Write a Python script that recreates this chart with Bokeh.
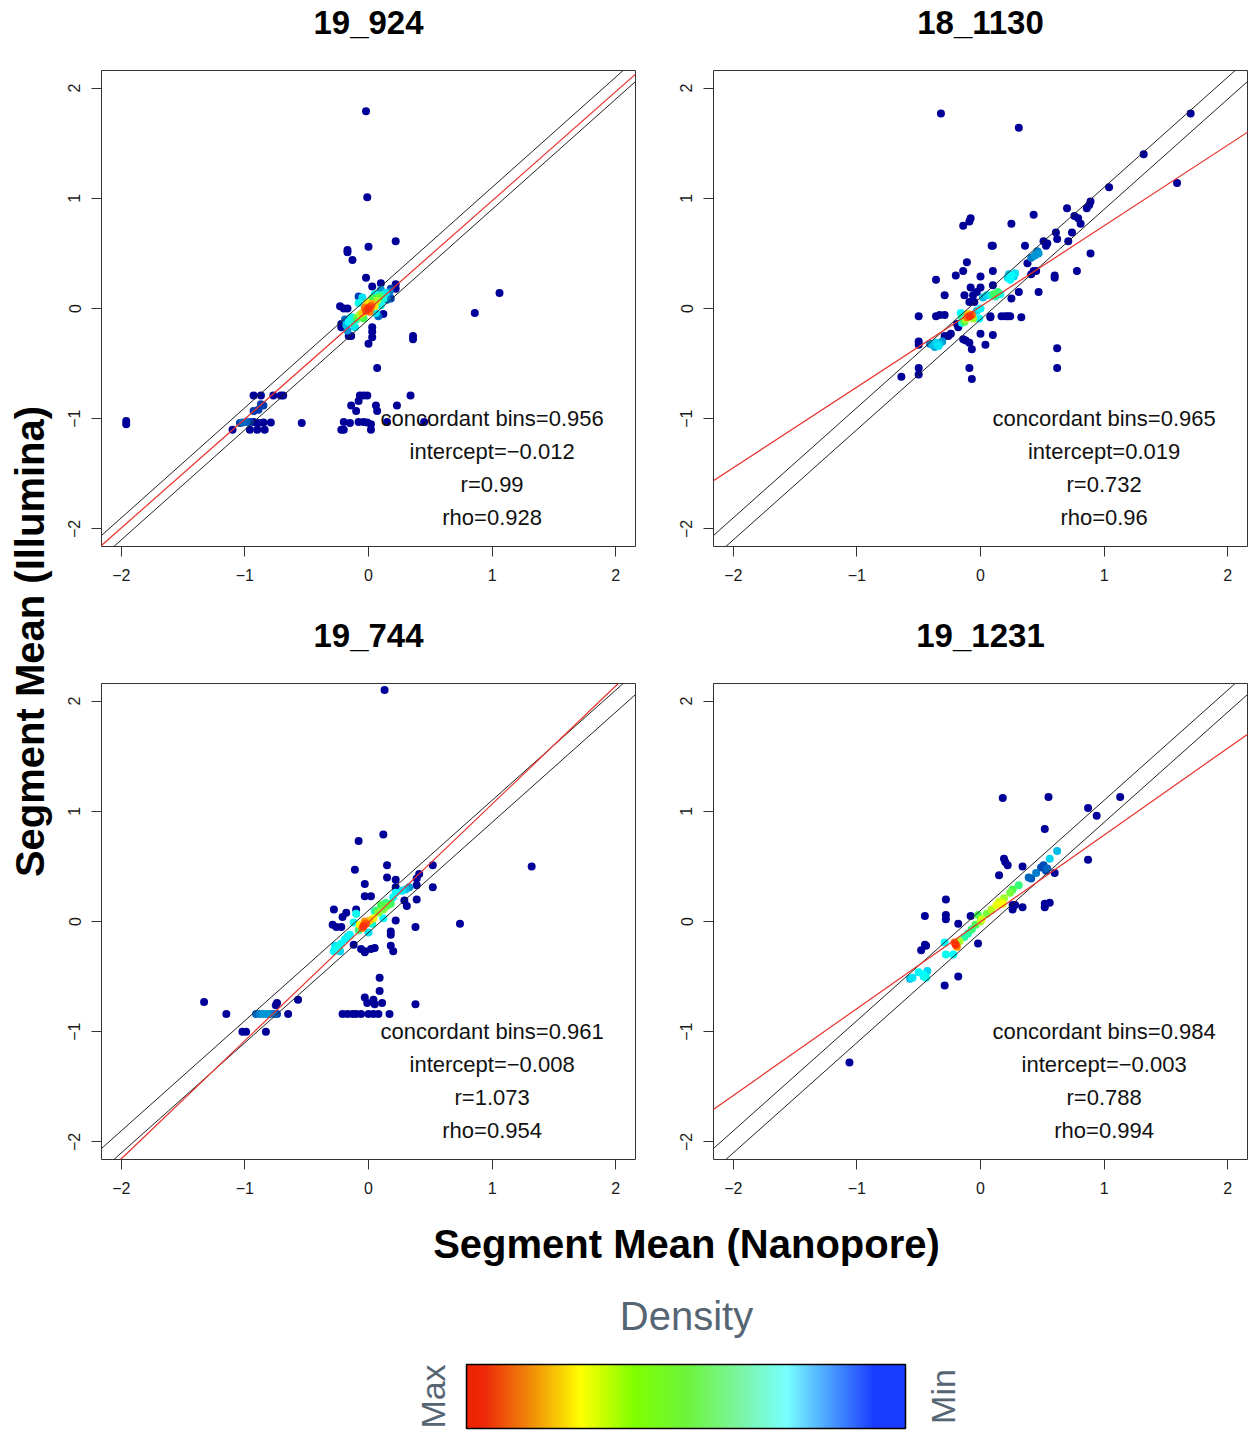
import numpy as np
from bokeh.plotting import figure
from bokeh.layouts import row, column
from bokeh.models import (Range1d, FixedTicker, LinearColorMapper, ColorBar,
                          Label, Slope, ColumnDataSource)
from bokeh.core.properties import value
from bokeh.embed import file_html
from bokeh.resources import INLINE

# ---------------- data ----------------
panel_titles = ["19_924", "18_1130", "19_744", "19_1231"]
concordant = [0.956, 0.965, 0.961, 0.984]
intercepts = [-0.012, 0.019, -0.008, -0.003]
r_values = [0.99, 0.732, 1.073, 0.788]
rho_values = [0.928, 0.96, 0.954, 0.994]
band = 0.1
tick_values = [-2, -1, 0, 1, 2]
tick_labels = ["\u22122", "\u22121", "0", "1", "2"]

# 19_924
x_19_924 = [-0.02, -0.01, 0.22, 0.00, -0.17, -0.17, -0.13, -0.02, 0.10, 0.03, 0.22, 0.22, 0.18, 1.06, 0.86,
            -0.23, -0.20, -0.17, -0.08, 0.18, 0.12, -0.22, -0.22, -0.16, -0.14, 0.03, 0.03, 0.03, 0.36, 0.36,
            0.00, 0.07,
            -0.93, -0.87, -0.77, -0.71, -0.69, -0.07, -0.04, -0.01, 0.34,
            -0.87, -0.85, -0.14, 0.06, 0.23, -0.08,
            -0.93, -0.89, -0.10, 0.07,
            -1.96, -1.96, -1.04, -1.02, -0.99, -0.96, -0.93, -0.89, -0.85, -0.79, -0.54, -0.20, -0.15, -0.08,
            -0.04, -0.01, 0.02, 0.15, 0.45,
            -1.10, -0.96, -0.90, -0.84, -0.22, -0.20, 0.02,
            0.00, -0.02, 0.02, -0.03, 0.01, 0.03, -0.05, 0.05, -0.01, 0.07, -0.07, 0.08, -0.09, 0.03, -0.04,
            0.10, -0.10, 0.12, -0.12, -0.14, 0.05, -0.08, 0.10, -0.16, -0.05, 0.14, -0.11, 0.06, -0.18, 0.10,
            0.15, -0.17, 0.17, -0.19, 0.08]
y_19_924 = [1.79, 1.01, 0.61, 0.56, 0.53, 0.51, 0.44, 0.28, 0.23, 0.20, 0.22, 0.18, 0.18, 0.14, -0.04,
            0.02, 0.00, 0.00, 0.11, 0.09, -0.05, -0.14, -0.17, -0.25, -0.25, -0.17, -0.21, -0.26, -0.25, -0.28,
            -0.32, -0.54,
            -0.79, -0.79, -0.79, -0.79, -0.79, -0.79, -0.79, -0.79, -0.79,
            -0.87, -0.88, -0.88, -0.88, -0.88, -0.84,
            -0.93, -0.92, -0.93, -0.93,
            -1.02, -1.05, -1.04, -1.035, -1.03, -1.03, -1.03, -1.04, -1.035, -1.035, -1.04, -1.03, -1.04, -1.03,
            -1.03, -1.035, -1.05, -1.03, -1.03,
            -1.10, -1.10, -1.10, -1.10, -1.10, -1.10, -1.10,
            0.00, -0.02, 0.02, 0.01, -0.03, 0.04, -0.04, 0.02, 0.05, 0.07, -0.06, 0.10, -0.08, 0.09, -0.09,
            0.12, -0.10, 0.09, -0.13, -0.08, 0.13, 0.05, 0.03, -0.12, 0.10, 0.14, -0.17, -0.04, -0.15, 0.17,
            0.08, -0.20, 0.15, -0.10, -0.07]
d_19_924 = [0, 0, 0, 0, 0, 0, 0, 0, 0, 0, 0, 0, 0.05, 0, 0,
            0, 0, 0, 0.05, 0.05, 0, 0, 0, 0, 0, 0, 0, 0, 0, 0,
            0, 0,
            0, 0, 0, 0, 0, 0, 0, 0, 0,
            0.05, 0.05, 0, 0, 0, 0,
            0.05, 0.05, 0, 0,
            0, 0, 0.05, 0.08, 0.08, 0.05, 0, 0, 0, 0, 0, 0, 0, 0,
            0, 0, 0, 0, 0,
            0, 0, 0, 0, 0, 0, 0,
            1.0, 0.95, 0.92, 0.85, 0.85, 0.75, 0.7, 0.65, 0.65, 0.5, 0.5, 0.42, 0.42, 0.4, 0.4,
            0.3, 0.3, 0.25, 0.25, 0.22, 0.22, 0.22, 0.22, 0.2, 0.18, 0.18, 0.18, 0.18, 0.15, 0.12,
            0.1, 0.12, 0.1, 0.08, 0.08]

# 18_1130
x_18_1130 = [-0.32, 0.31, 1.70, 1.32, 1.59, 1.04, 0.70, 0.86, 0.88, 0.89, 0.43, -0.08, -0.09, -0.14, 0.25,
             0.76, 0.79, 0.81, 0.74, 0.61, 0.62, 0.51, 0.54, 0.53, 0.89, 0.71, 0.09, 0.10, 0.36, -0.11,
             0.10, 0.78, 0.38, 0.43, 0.45, 0.41, 0.60, 0.60, -0.36, -0.20, -0.14, 0.00, 0.47, 0.31, 0.25,
             0.10, -0.08, 0.00, -0.03, -0.29, -0.13, -0.06, -0.09, -0.05, 0.08, 0.08, 0.17, 0.20, 0.22, 0.24,
             0.33, -0.50, -0.36, -0.33, -0.29, -0.19, -0.18, -0.14, -0.12, -0.09, -0.07, 0.00, 0.10, 0.04,
             -0.24, -0.26, -0.50, -0.50, -0.29, 0.62, 0.62, -0.50, -0.50, -0.64, -0.09, -0.07,
             0.44, 0.47, 0.41, 0.46,
             0.22, 0.25, 0.28, 0.24, 0.27, 0.23, 0.02, 0.05,
             0.11, 0.14, 0.12, 0.09, 0.16,
             -0.09, -0.07, -0.11, -0.10, -0.12, -0.13, -0.06, -0.15,
             0.00, -0.01, -0.03, -0.16, -0.15,
             -0.39, -0.36, -0.33, -0.37, -0.34, -0.41, -0.31]
y_18_1130 = [1.77, 1.64, 1.77, 1.40, 1.14, 1.10, 0.91, 0.91, 0.94, 0.97, 0.85, 0.82, 0.79, 0.75, 0.77,
             0.84, 0.82, 0.77, 0.69, 0.69, 0.63, 0.61, 0.59, 0.57, 0.50, 0.61, 0.57, 0.57, 0.57, 0.42,
             0.34, 0.34, 0.41, 0.34, 0.34, 0.31, 0.30, 0.28, 0.26, 0.30, 0.34, 0.29, 0.15, 0.15, 0.09,
             0.21, 0.19, 0.19, 0.15, 0.12, 0.12, 0.12, 0.06, 0.06, -0.07, -0.08, -0.07, -0.07, -0.07, -0.07,
             -0.08, -0.07, -0.07, -0.06, -0.06, -0.14, -0.17, -0.28, -0.29, -0.31, -0.37, -0.23, -0.24, -0.33,
             -0.23, -0.25, -0.30, -0.33, -0.25, -0.36, -0.54, -0.54, -0.60, -0.62, -0.54, -0.64,
             0.48, 0.50, 0.46, 0.52,
             0.28, 0.30, 0.32, 0.26, 0.29, 0.31, 0.10, 0.12,
             0.13, 0.15, 0.11, 0.12, 0.13,
             -0.07, -0.06, -0.08, -0.05, -0.10, -0.12, -0.09, -0.08,
             0.00, -0.09, -0.02, -0.04, -0.13,
             -0.33, -0.31, -0.32, -0.35, -0.34, -0.32, -0.30]
d_18_1130 = [0] * 86 + [0.12, 0.12, 0.1, 0.1,
                       0.18, 0.2, 0.18, 0.2, 0.17, 0.15, 0.15, 0.17,
                       0.38, 0.35, 0.3, 0.25, 0.22,
                       1.0, 0.9, 0.85, 0.7, 0.5, 0.4, 0.5, 0.3,
                       0.2, 0.2, 0.17, 0.2, 0.22,
                       0.15, 0.17, 0.15, 0.13, 0.18, 0.1, 0.12]

# 19_744
x_19_744 = [0.13, 0.12, -0.08, -0.11, 0.15, 0.52, 0.41, 1.32, 0.15, 0.22, 0.22, -0.03, 0.52, 0.39, 0.39,
            0.39, 0.29, 0.31, -0.03, 0.02, -0.10, -0.18, -0.21, -0.28, -0.29, -0.26, -0.22, 0.22, 0.74, 0.38,
            0.18, 0.18, -0.12, -0.06, -0.03, 0.02, 0.05, 0.18, 0.20, -0.03, 0.09, 0.09, -0.03, 0.04, -0.01,
            0.05, 0.11, 0.38, -1.33, -0.74, -0.75, -0.57, -1.15, -0.65, -0.21, -0.17, -0.13, -0.10, -0.06, 0.00,
            0.04, 0.08, 0.17, -1.02, -0.99, -0.83,
            -0.91, -0.88, -0.85, -0.82, -0.79, -0.76, -0.74,
            -0.04, -0.02, -0.05, -0.03, 0.01, 0.04, -0.07, 0.08, 0.12, 0.15, 0.10, 0.18, 0.06, -0.08, 0.14,
            -0.10, -0.12, 0.05, 0.22, 0.27, 0.20, 0.00, -0.15, 0.03, 0.33, 0.30, 0.12,
            -0.28, -0.26, -0.24, -0.22, -0.19, -0.17, -0.27, -0.23]
y_19_744 = [2.10, 0.79, 0.73, 0.47, 0.51, 0.51, 0.43, 0.50, 0.40, 0.38, 0.31, 0.34, 0.31, 0.39, 0.33,
            0.20, 0.19, 0.14, 0.23, 0.23, 0.11, 0.08, 0.04, 0.11, -0.03, -0.05, -0.05, 0.01, -0.02, -0.05,
            -0.09, -0.12, -0.21, -0.25, -0.27, -0.25, -0.24, -0.22, -0.27, -0.28, -0.51, -0.63, -0.69, -0.71, -0.74,
            -0.75, -0.74, -0.75, -0.73, -0.74, -0.76, -0.71, -0.84, -0.84, -0.84, -0.84, -0.84, -0.84, -0.84, -0.84,
            -0.84, -0.84, -0.84, -1.00, -1.00, -1.00,
            -0.84, -0.84, -0.84, -0.84, -0.84, -0.84, -0.84,
            -0.04, -0.02, -0.06, 0.00, 0.01, 0.03, -0.03, 0.08, 0.11, 0.14, 0.15, 0.16, 0.10, -0.08, 0.17,
            0.07, -0.01, 0.09, 0.26, 0.28, 0.22, -0.10, -0.12, -0.02, 0.31, 0.29, 0.03,
            -0.27, -0.25, -0.23, -0.20, -0.16, -0.14, -0.22, -0.27]
d_19_744 = [0] * 66 + [0.08, 0.1, 0.12, 0.12, 0.1, 0.08, 0.05,
                      1.0, 0.92, 0.88, 0.8, 0.7, 0.62, 0.6, 0.48, 0.45, 0.42, 0.4, 0.38, 0.35, 0.35, 0.33,
                      0.22, 0.22, 0.22, 0.2, 0.18, 0.22, 0.18, 0.2, 0.25, 0.12, 0.15, 0.2,
                      0.2, 0.22, 0.22, 0.2, 0.2, 0.18, 0.18, 0.17]

# 19_1231
x_19_1231 = [0.18, 0.55, 1.13, 0.87, 0.94, 0.52, 0.87, 0.19, 0.20, 0.22, 0.34, 0.15, 0.60, 0.26, 0.28,
             0.26, 0.34, 0.52, 0.52, 0.56, -0.28, -0.45, -0.28, -0.28, -0.08, -0.18, -0.02, -0.45, -0.44, -0.48,
             -0.18, -0.29, -1.06,
             0.62, 0.56, 0.49, 0.51, 0.53, 0.54, 0.45, 0.39, 0.41,
             0.31, 0.26, 0.24, 0.19, 0.15, 0.18, 0.13, 0.09, 0.05, 0.01, -0.02, 0.00, -0.04, -0.07, -0.10,
             -0.13, -0.17,
             -0.20, -0.21, -0.19,
             -0.29, -0.28, -0.22, -0.50, -0.46, -0.44, -0.55, -0.57, -0.43, -0.46]
y_19_1231 = [1.12, 1.13, 1.13, 1.03, 0.96, 0.84, 0.56, 0.57, 0.54, 0.51, 0.50, 0.42, 0.44, 0.15, 0.15,
             0.11, 0.13, 0.16, 0.13, 0.17, 0.20, 0.05, 0.06, 0.02, 0.05, -0.02, -0.20, -0.21, -0.22, -0.26,
             -0.50, -0.58, -1.28,
             0.64, 0.57, 0.49, 0.51, 0.46, 0.48, 0.44, 0.40, 0.39,
             0.33, 0.29, 0.26, 0.21, 0.18, 0.16, 0.15, 0.11, 0.07, 0.02, 0.06, 0.00, -0.03, -0.07, -0.11,
             -0.14, -0.18,
             -0.21, -0.19, -0.23,
             -0.19, -0.30, -0.30, -0.46, -0.50, -0.51, -0.51, -0.52, -0.45, -0.48]
d_19_1231 = [0] * 33 + [0.15, 0.17, 0.06, 0.06, 0.06, 0.08, 0.1, 0.08, 0.07,
                       0.35, 0.4, 0.45, 0.5, 0.55, 0.6, 0.58, 0.52, 0.45, 0.55, 0.4, 0.5, 0.4, 0.35, 0.3,
                       0.3, 0.5,
                       1.0, 0.9, 0.8,
                       0.2, 0.22, 0.2, 0.2, 0.2, 0.22, 0.18, 0.15, 0.17, 0.2]

panel_x = [x_19_924, x_18_1130, x_19_744, x_19_1231]
panel_y = [y_19_924, y_18_1130, y_19_744, y_19_1231]
panel_d = [d_19_924, d_18_1130, d_19_744, d_19_1231]

# ---------------- styling helpers ----------------
def interp_palette(stops, n=256):
    pos = np.array([s[0] for s in stops])
    rgb = np.array([[int(s[1][i:i + 2], 16) for i in (1, 3, 5)] for s in stops], dtype=float)
    t = np.linspace(0, 1, n)
    out = []
    for v in t:
        c = [np.interp(v, pos, rgb[:, k]) for k in range(3)]
        out.append("#%02x%02x%02x" % tuple(int(round(x)) for x in c))
    return out

dens_palette = interp_palette([(0.0, "#000099"), (0.2, "#00FEFF"), (0.4, "#45FE4F"),
                               (0.6, "#FCFF00"), (0.8, "#FF9400"), (1.0, "#FF3100")])
legend_palette = interp_palette([(0.0, "#ee2200"), (0.04, "#ee2a0a"), (0.13, "#ef7d0a"),
                                 (0.26, "#ffff00"), (0.38, "#80ff00"), (0.50, "#6cf53a"),
                                 (0.62, "#7cf5a0"), (0.73, "#77ffff"), (0.83, "#4a9cff"),
                                 (0.93, "#1a3cff"), (1.0, "#1a3cff")])
dens_mapper = LinearColorMapper(palette=dens_palette, low=0, high=1)

FONT = "Liberation Sans"
FW, FH = 534, 476
LIM = 2.16


def blank(width, height, x_range=None):
    f = figure(width=width, height=height,
               x_range=x_range if x_range is not None else Range1d(0, width),
               y_range=Range1d(0, height),
               output_backend="svg", toolbar_location=None, min_border=0,
               x_axis_location=None, y_axis_location=None)
    f.outline_line_color = None
    f.grid.visible = False
    return f


def make_title(i, ml, mr, height, centre_from_top, x_range):
    t = figure(width=ml + FW + mr, height=height, x_range=x_range,
               y_range=Range1d(0, height), output_backend="svg", toolbar_location=None,
               min_border_left=ml, min_border_right=mr, min_border_top=0, min_border_bottom=0,
               x_axis_location=None, y_axis_location=None)
    t.outline_line_color = None
    t.grid.visible = False
    t.add_layout(Label(x=0, y=height - centre_from_top, text=panel_titles[i],
                       text_align="center", text_baseline="middle", text_font=FONT,
                       text_font_size="33px", text_font_style="bold", text_color="black"))
    return t


def make_panel(i, ml, mr, mt, mb):
    p = figure(width=ml + FW + mr, height=mt + FH + mb,
               x_range=Range1d(-LIM, LIM), y_range=Range1d(-LIM, LIM),
               output_backend="svg", toolbar_location=None,
               min_border_left=ml, min_border_right=mr,
               min_border_top=mt, min_border_bottom=mb)
    p.xgrid.visible = False
    p.ygrid.visible = False
    p.outline_line_color = "#333333"
    p.outline_line_width = 1
    overrides = {t: l for t, l in zip(tick_values, tick_labels)}
    for ax in (p.xaxis[0], p.yaxis[0]):
        ax.ticker = FixedTicker(ticks=tick_values)
        ax.major_label_overrides = overrides
        ax.axis_line_color = None
        ax.major_tick_line_color = "#333333"
        ax.major_tick_out = 10
        ax.major_tick_in = 0
        ax.minor_tick_line_color = None
        ax.major_label_text_font = FONT
        ax.major_label_text_font_size = "16px"
        ax.major_label_text_color = "#1a1a1a"
    p.xaxis.major_label_standoff = 12
    p.yaxis.major_label_standoff = 11
    p.yaxis.major_label_orientation = "vertical"

    # points, drawn low density first
    order = np.argsort(panel_d[i], kind="stable")
    src = ColumnDataSource(dict(x=np.array(panel_x[i])[order],
                                y=np.array(panel_y[i])[order],
                                d=np.array(panel_d[i])[order]))
    p.scatter("x", "y", source=src, size=8, line_color=None,
              fill_color={"field": "d", "transform": dens_mapper})

    # identity band and regression line
    p.add_layout(Slope(gradient=1, y_intercept=band, line_color="#222222", line_width=1))
    p.add_layout(Slope(gradient=1, y_intercept=-band, line_color="#222222", line_width=1))
    p.add_layout(Slope(gradient=r_values[i], y_intercept=intercepts[i],
                       line_color="#e8312b", line_width=1.2))

    texts = ["concordant bins=%s" % concordant[i],
             "intercept=%s" % ("%g" % intercepts[i]).replace("-", "\u2212"),
             "r=%s" % r_values[i],
             "rho=%s" % rho_values[i]]
    p.text(x=[1.0] * 4, y=[-1.0, -1.3, -1.6, -1.9], text=texts,
           text_align="center", text_baseline="middle",
           text_font=value(FONT), text_font_size="22px", text_color="#111111")
    return p


ML, MR1, MR2 = 43, 35, 3
PTOP, BOT = 26, 54
T1H, T2H = 44, 57          # title strip heights (row 1, row 2)
f1 = make_panel(0, ML, MR1, PTOP, BOT)
f2 = make_panel(1, ML, MR2, PTOP, BOT)
f3 = make_panel(2, ML, MR1, PTOP, BOT)
f4 = make_panel(3, ML, MR2, PTOP, BOT)
t1 = make_title(0, ML, MR1, T1H, 22, f1.x_range)
t2 = make_title(1, ML, MR2, T1H, 22, f2.x_range)
t3 = make_title(2, ML, MR1, T2H, 35, f3.x_range)
t4 = make_title(3, ML, MR2, T2H, 35, f4.x_range)

H_TOP = (T1H + PTOP + FH + BOT) + (T2H + PTOP + FH + BOT)
YW = 58
ylab = blank(YW, H_TOP)
ylab.add_layout(Label(x=29, y=H_TOP - 641, text="Segment Mean (Illumina)", angle=np.pi / 2,
                      text_align="center", text_baseline="middle", text_font=FONT,
                      text_font_size="40px", text_font_style="bold", text_color="black"))

BW = YW + (ML + FW + MR1) + (ML + FW + MR2)
BH = 217
bottom = blank(BW, BH)
bottom.add_layout(Label(x=686, y=BH - 30, text="Segment Mean (Nanopore)",
                        text_align="center", text_baseline="middle", text_font=FONT,
                        text_font_size="40px", text_font_style="bold", text_color="black"))
bottom.add_layout(Label(x=686, y=BH - 102, text="Density",
                        text_align="center", text_baseline="middle", text_font=FONT,
                        text_font_size="40px", text_color="#566573"))
bottom.add_layout(Label(x=432, y=34, text="Max", angle=np.pi / 2,
                        text_align="center", text_baseline="middle", text_font=FONT,
                        text_font_size="34px", text_color="#566573"))
bottom.add_layout(Label(x=942, y=34, text="Min", angle=np.pi / 2,
                        text_align="center", text_baseline="middle", text_font=FONT,
                        text_font_size="34px", text_color="#566573"))

legend_mapper = LinearColorMapper(palette=legend_palette, low=0, high=1)
cb = ColorBar(color_mapper=legend_mapper, orientation="horizontal",
              width=439, height=64, location=(466, 2), padding=0, margin=0,
              ticker=FixedTicker(ticks=[]), major_tick_line_color=None,
              major_label_text_font_size="0px", label_standoff=0,
              bar_line_color="black", bar_line_width=1.5,
              border_line_color=None, background_fill_color=None)
bottom.add_layout(cb)

col1 = column(t1, f1, t3, f3, spacing=0)
col2 = column(t2, f2, t4, f4, spacing=0)
top = row(ylab, col1, col2, spacing=0)
layout = column(top, bottom, spacing=0)

open("out.html", "w").write(file_html(layout, INLINE))
